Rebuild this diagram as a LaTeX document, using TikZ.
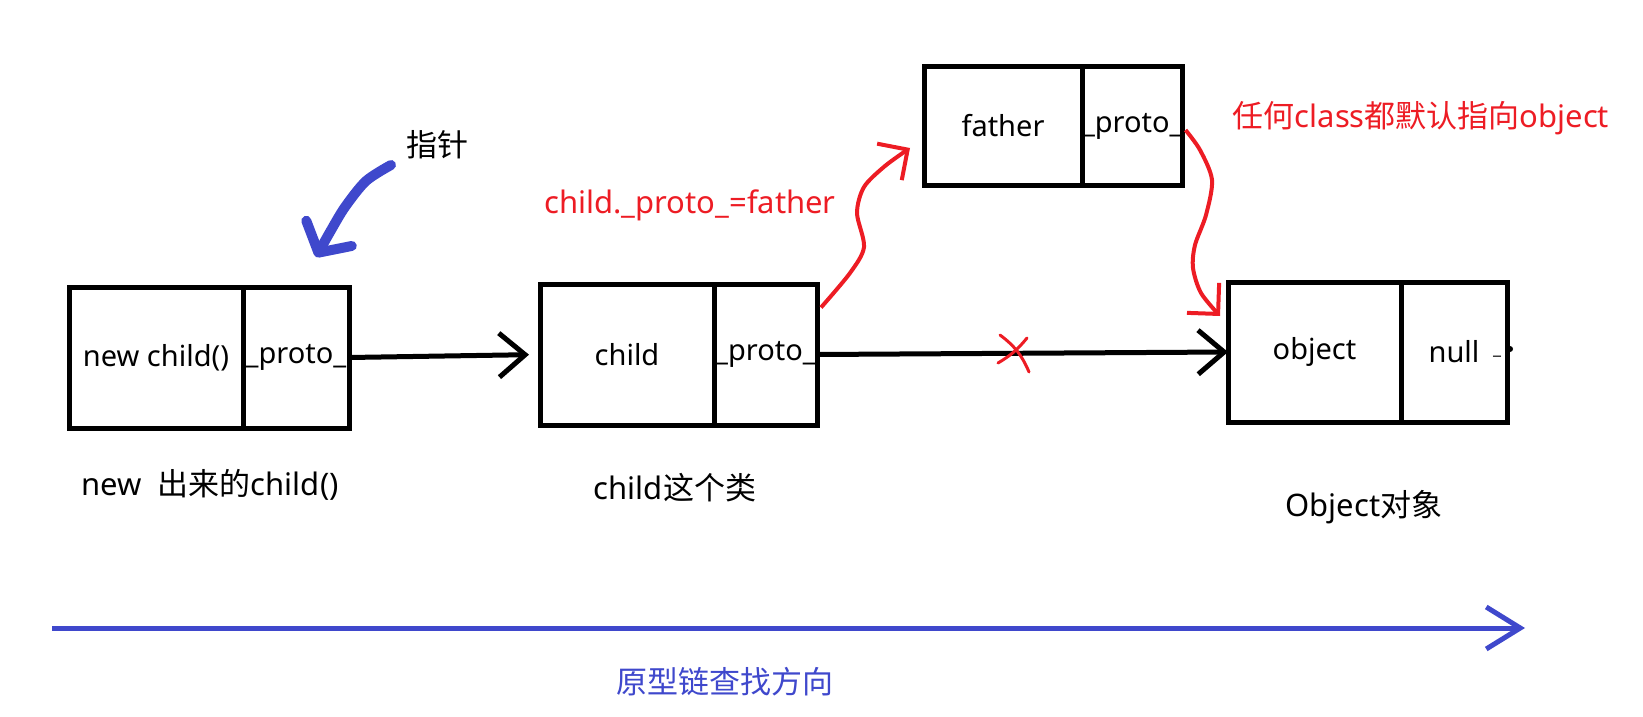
\documentclass[tikz,border=0pt]{standalone}
\usepackage{fontspec}
\setmainfont{Noto Sans}
\newfontfamily\cjk{Noto Sans CJK SC}
\usetikzlibrary{arrows.meta,positioning}

\definecolor{pintarojo}{RGB}{237,28,36}
\definecolor{pintaazul}{RGB}{63,72,204}

\tikzset{
  celda/.style={draw, line width=2.5pt, outer sep=0pt, inner sep=0pt,
    minimum height=70.5pt, font=\fontsize{14.5}{17}\selectfont},
  flecha/.style={line width=2.5pt, -{Straight Barb[length=13pt,width=22pt]}},
  rojoflecha/.style={pintarojo, line width=2pt, -{Straight Barb[length=11pt,width=22pt]}},
  azulflecha/.style={pintaazul, line width=2.5pt, -{Straight Barb[length=17pt,width=21pt]}}
}

\begin{document}
\begin{tikzpicture}[x=0.5pt, y=-0.5pt, font=\fontsize{15.5}{18}\selectfont]
        \useasboundingbox (0,0) rectangle (1643,717);

        % Cajas
        \node[celda, minimum width=87pt] (newL) at (156,357.5) {new child()};
        \node[celda, minimum width=53pt, right=0pt of newL] (newR) {\_proto\_};

        \node[celda, minimum width=87pt] (childL) at (627,354.5) {child};
        \node[celda, minimum width=51.5pt, right=0pt of childL] (childR) {\_proto\_};

        \node[celda, minimum width=86.5pt, minimum height=70pt] (objL) at (1314.5,352) {object};
        \node[celda, minimum width=53pt, minimum height=70pt, right=0pt of objL] (objR) {null};
        \node[font=\fontsize{9}{9}\selectfont] (nullMarca) at (1497,356) {\_};
        \fill (1510,349) circle (1.5pt);

        \node[celda, minimum width=79pt, minimum height=59pt] (fatherL) at (1003,126) {father};
        \node[celda, minimum width=49pt, minimum height=59pt, right=0pt of fatherL] (fatherR) {\_proto\_};

        % Etiquetas
        \node (lblNew) at (210,485) {new\ \ {\cjk 出来的}child()};
        \node (lblChild) at (675,488) {child{\cjk 这个类}};
        \node (lblObj) at (1364,507) {Object{\cjk 对象}};
        \node[text=pintarojo] (lblProto) at (690,205) {child.\_proto\_=father};
        \node[text=pintarojo] (lblDefault) at (1421,118) {{\cjk 任何}class{\cjk 都默认指向}object};
        \node (lblPtr) at (437,145) {\cjk 指针};
        \node[text=pintaazul] (lblDir) at (725,682) {\cjk 原型链查找方向};

        % Cadena de prototipos
        \draw[flecha, shorten >=5.5pt] (newR.east) -- (childL.west);
        \draw[flecha] (childR.east) -- (objL.west);

        % Enlace roto
        \coordinate (corte) at (1013,353);
        \draw[pintarojo, line width=1.5pt, line cap=round] ([shift={(-13,-18)}]corte) to[bend left=15] ([shift={(16,19)}]corte);
        \draw[pintarojo, line width=1.5pt, line cap=round] ([shift={(14,-15)}]corte) to[bend left=10] ([shift={(-15,10)}]corte);

        % Flechas rojas a mano
        \coordinate (arribaPunta) at (910,148);
        \draw[rojoflecha] plot[smooth] coordinates {([xshift=2pt,yshift=23.5pt]childR.east) (850,273) (864,247) (857,213) (864,187) (885,166) (arribaPunta)};
        \coordinate (abajoPunta) at (1220,316);
        \draw[rojoflecha] plot[smooth] coordinates {([xshift=1.5pt,yshift=-2pt]fatherR.east) (1200,150) (1212,180) (1206,215) (1195,245) (1193,268) (1201,293) (abajoPunta)};

        % Puntero
        \coordinate (punteroIni) at (391,165);
        \draw[pintaazul, line width=5pt, line cap=round, -{Straight Barb[length=11pt,width=26pt,round]}]
            plot[smooth] coordinates {(punteroIni) (366,181) (345,207) (330,232) ([xshift=10pt,yshift=15pt]newR.north)};

        % Direccion de busqueda
        \coordinate (dirIni) at (52,628);
        \coordinate (dirFin) at (1525,628);
        \draw[azulflecha] (dirIni) -- (dirFin);

    \end{tikzpicture}
\end{document}
